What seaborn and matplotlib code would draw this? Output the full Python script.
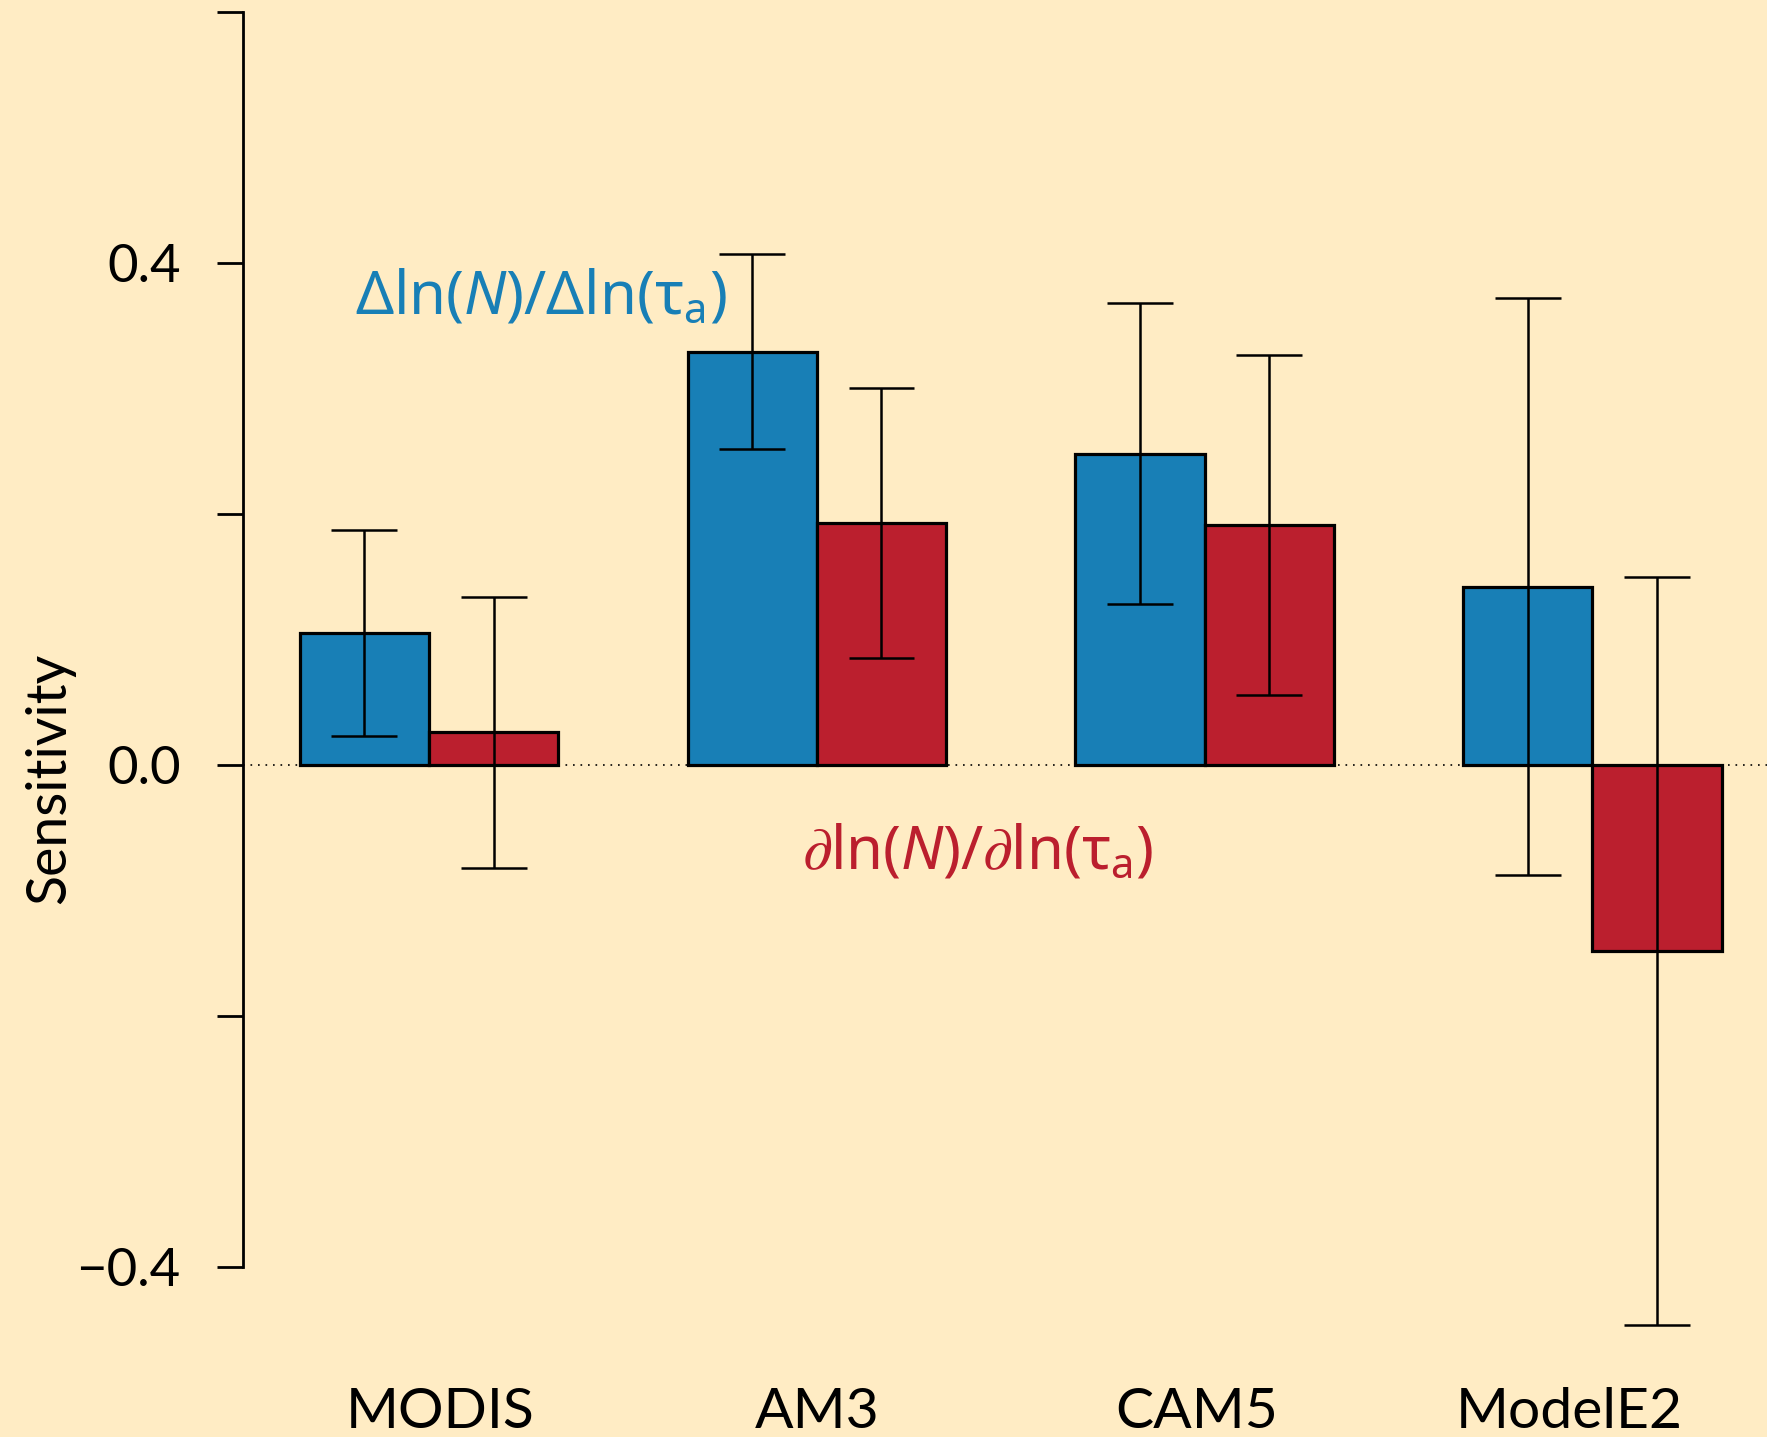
import numpy as np
import pandas as pd
import matplotlib
matplotlib.use("Agg")
import matplotlib.pyplot as plt
import seaborn as sns

# ---- data ----
categories = ["MODIS", "AM3", "CAM5", "ModelE2"]
series_names = ["delta", "partial"]
delta_vals = [0.105, 0.329, 0.248, 0.142]
delta_lo = [0.023, 0.252, 0.128, -0.088]
delta_hi = [0.187, 0.407, 0.368, 0.372]
partial_vals = [0.026, 0.193, 0.191, -0.148]
partial_lo = [-0.082, 0.085, 0.056, -0.446]
partial_hi = [0.134, 0.300, 0.327, 0.150]
ytick_vals = [-0.4, -0.2, 0.0, 0.2, 0.4, 0.6]
ytick_labels = ["\u22120.4", "", "0.0", "", "0.4", ""]

BG = "#FFECC4"
BLUE = "#187FB6"
RED = "#BB1F2E"

sns.set_theme(style="white")
plt.rcParams["font.family"] = ["Lato", "DejaVu Sans"]
plt.rcParams["mathtext.fontset"] = "custom"
plt.rcParams["mathtext.rm"] = "Noto Sans"
plt.rcParams["mathtext.it"] = "Noto Sans:italic"
plt.rcParams["mathtext.bf"] = "Noto Sans:bold"

df = pd.DataFrame({
    "model": categories * 2,
    "series": [series_names[0]] * 4 + [series_names[1]] * 4,
    "value": delta_vals + partial_vals,
})

W, H = 1767, 1437
fig = plt.figure(figsize=(W / 100, H / 100), dpi=100, facecolor=BG)
ax_left = 243 / W
ax_bottom_px = 1340
ax = fig.add_axes([ax_left, 1 - ax_bottom_px / H, 1 - ax_left, ax_bottom_px / H])
ax.set_facecolor(BG)

sns.barplot(data=df, x="model", y="value", hue="series", order=categories,
            hue_order=series_names, palette=[BLUE, RED], width=2 / 3,
            edgecolor="black", linewidth=2.3, errorbar=None, legend=False,
            saturation=1, ax=ax)

# error bars from the bar positions
lo_all = [delta_lo, partial_lo]
hi_all = [delta_hi, partial_hi]
for cont, lo, hi in zip(ax.containers, lo_all, hi_all):
    for bar, l, h in zip(cont, lo, hi):
        xc = bar.get_x() + bar.get_width() / 2
        cw = bar.get_width() * 0.255
        ax.vlines(xc, l, h, color="black", lw=1.8, zorder=5, clip_on=False)
        ax.hlines([l, h], xc - cw, xc + cw, color="black", lw=1.8, zorder=5, clip_on=False)

ax.axhline(0, color="black", lw=1.2, ls=(0, (1, 3.5)), zorder=0)

ax.set_xlim(-0.4797, 3.450)
ax.set_ylim(-(ax_bottom_px - 765) / 1255, 765 / 1255)

for s in ["top", "right", "bottom"]:
    ax.spines[s].set_visible(False)
ax.spines["left"].set_bounds(-0.4, 0.6)
ax.spines["left"].set_linewidth(2.0)
ax.spines["left"].set_color("black")

ax.set_yticks(ytick_vals)
ax.set_yticklabels(ytick_labels)
ax.tick_params(axis="y", length=19, width=2.0, pad=26, labelsize=38, colors="black", left=True)

label_pos = [0.03, 1.0, 1.98, 2.94]
ax.set_xticks(label_pos)
ax.set_xticklabels(categories)
ax.tick_params(axis="x", length=0, pad=34, labelsize=41, colors="black")
ax.set_xlabel("")
ax.set_ylabel("")

fig.text(50 / W, 1 - 778 / H, "Sensitivity", rotation=90, ha="center", va="center",
         fontsize=40, color="black")

ax.text(0.288, 0.374, r"$\Delta\mathrm{ln}(N)/\Delta\mathrm{ln}(\mathrm{\tau}_\mathrm{a})$",
        color=BLUE, fontsize=43, ha="center", va="center")
ax.text(1.416, -0.0685, r"$\partial\mathrm{ln}(N)/\partial\mathrm{ln}(\mathrm{\tau}_\mathrm{a})$",
        color=RED, fontsize=43, ha="center", va="center")

fig.savefig("out.png", dpi=100, facecolor=BG)
